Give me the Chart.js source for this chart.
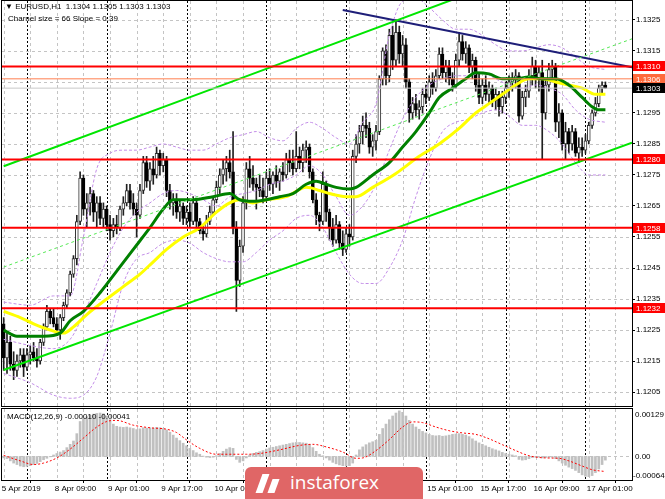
<!DOCTYPE html>
<html lang="en">
<head>
<meta charset="utf-8">
<title>EURUSD, H1</title>
<script src="https://cdn.jsdelivr.net/npm/chart.js@4.4.1/dist/chart.umd.min.js"></script>
<style>
    body {
        margin: 0;
        background: #fff;
    }

    .terminal {
        position: relative;
        width: 665px;
        height: 499px;
        overflow: hidden;
        background: #fff;
        font-family: "Liberation Sans", Arial, sans-serif;
    }

    .terminal__canvas {
        position: absolute;
        left: 0;
    }

    .terminal__text {
        position: absolute;
        font-size: 8px;
        line-height: 10px;
        color: #000;
        white-space: pre;
    }

    .logo {
        position: absolute;
        left: 245px;
        top: 467px;
        width: 178px;
        height: 32px;
        background: #e06666;
        border-radius: 6px 6px 0 0;
    }

    .logo__mark {
        position: absolute;
        left: 14px;
        top: 7px;
        width: 7px;
        height: 19px;
        background: #fff;
        transform: skewX(-20deg);
    }

    .logo__mark--second {
        left: 25px;
        top: 12px;
        height: 14px;
    }

    .logo__text {
        position: absolute;
        left: 45px;
        top: 6px;
        font-family: "Open Sans", sans-serif;
        font-size: 19px;
        line-height: 1;
        color: #fff;
    }
</style>
</head>
<body>
<div class="terminal">
    <canvas id="priceChart" class="terminal__canvas" style="top:0" width="665" height="409"></canvas>
    <canvas id="macdChart" class="terminal__canvas" style="top:406px" width="665" height="93"></canvas>
    <div class="terminal__text" style="left:5px;top:2px">▼ EURUSD,H1  1.1304 1.1305 1.1303 1.1303</div>
    <div class="terminal__text" style="left:8px;top:14px">Charnel size = 66 Slope = 0.39</div>
    <div class="terminal__text" style="left:7px;top:412px">MACD(12,26,9) -0.00010 -0.00041</div>
    <div class="logo">
        <span class="logo__mark"></span>
        <span class="logo__mark logo__mark--second"></span>
        <span class="logo__text">instaforex</span>
    </div>
</div>
<script>
/*
    ----------> DATA <----------
*/

// H1 candles, bar 0 = 5 Apr 17:00
const opens = [
    1.1227, 1.1216, 1.1221, 1.1214, 1.1212, 1.1215, 1.1217, 1.1213, 1.1217, 1.1218,
    1.1216, 1.1215, 1.1221, 1.1226, 1.1231, 1.1229, 1.1227, 1.1225, 1.1229, 1.1233,
    1.1237, 1.1243, 1.1248, 1.1260, 1.1274, 1.1264, 1.1266, 1.1269, 1.1263, 1.1266,
    1.1261, 1.1264, 1.1259, 1.1257, 1.1259, 1.1258, 1.1264, 1.1266, 1.1270, 1.1266,
    1.1264, 1.1262, 1.1270, 1.1279, 1.1273, 1.1277, 1.1275, 1.1282, 1.1278, 1.1280,
    1.1270, 1.1266, 1.1267, 1.1263, 1.1265, 1.1261, 1.1263, 1.1260, 1.1266, 1.1260,
    1.1257, 1.1256, 1.1260, 1.1263, 1.1267, 1.1271, 1.1275, 1.1277, 1.1279, 1.1276,
    1.1258, 1.1241, 1.1252, 1.1266, 1.1277, 1.1274, 1.1272, 1.1271, 1.1270, 1.1268,
    1.1274, 1.1272, 1.1275, 1.1273, 1.1276, 1.1275, 1.1280, 1.1279, 1.1277, 1.1281,
    1.1279, 1.1283, 1.1284, 1.1276, 1.1267, 1.1262, 1.1260, 1.1272, 1.1263, 1.1258,
    1.1254, 1.1259, 1.1253, 1.1251, 1.1256, 1.1255, 1.1281, 1.1285, 1.1289, 1.1291,
    1.1290, 1.1284, 1.1286, 1.1289, 1.1306, 1.1315, 1.1307, 1.1320, 1.1312, 1.1321,
    1.1314, 1.1317, 1.1305, 1.1295, 1.1298, 1.1296, 1.1297, 1.1301, 1.1300, 1.1305,
    1.1303, 1.1307, 1.1314, 1.1308, 1.1310, 1.1306, 1.1304, 1.1312, 1.1318, 1.1314,
    1.1316, 1.1310, 1.1312, 1.1304, 1.1300, 1.1304, 1.1301, 1.1303, 1.1299, 1.1301,
    1.1297, 1.1300, 1.1303, 1.1305, 1.1306, 1.1307, 1.1294, 1.1300, 1.1302, 1.1307,
    1.1310, 1.1306, 1.1308, 1.1295, 1.1304, 1.1309, 1.1310, 1.1292, 1.1295, 1.1285,
    1.1289, 1.1285, 1.1289, 1.1282, 1.1284, 1.1283, 1.1286, 1.1291, 1.1295, 1.1298,
    1.1303, 1.1304,
];
const highs = [
    1.1229, 1.1224, 1.1223, 1.1218, 1.1217, 1.1219, 1.1219, 1.1219, 1.1220, 1.1221,
    1.1219, 1.1222, 1.1227, 1.1233, 1.1232, 1.1232, 1.1229, 1.1230, 1.1234, 1.1238,
    1.1244, 1.1249, 1.1262, 1.1276, 1.1275, 1.1269, 1.1271, 1.1270, 1.1268, 1.1268,
    1.1266, 1.1265, 1.1262, 1.1261, 1.1262, 1.1265, 1.1268, 1.1272, 1.1272, 1.1269,
    1.1266, 1.1272, 1.1281, 1.1281, 1.1279, 1.1281, 1.1284, 1.1283, 1.1282, 1.1281,
    1.1272, 1.1269, 1.1269, 1.1267, 1.1266, 1.1265, 1.1266, 1.1268, 1.1267, 1.1261,
    1.1259, 1.1262, 1.1265, 1.1268, 1.1273, 1.1277, 1.1280, 1.1281, 1.1283, 1.1289,
    1.1260, 1.1254, 1.1268, 1.1279, 1.1281, 1.1278, 1.1274, 1.1275, 1.1274, 1.1276,
    1.1277, 1.1276, 1.1278, 1.1277, 1.1279, 1.1282, 1.1283, 1.1283, 1.1289, 1.1284,
    1.1285, 1.1286, 1.1285, 1.1277, 1.1269, 1.1263, 1.1276, 1.1273, 1.1264, 1.1261,
    1.1262, 1.1260, 1.1257, 1.1258, 1.1259, 1.1283, 1.1288, 1.1291, 1.1294, 1.1295,
    1.1292, 1.1288, 1.1291, 1.1307, 1.1316, 1.1317, 1.1322, 1.1323, 1.1325, 1.1323,
    1.1320, 1.1319, 1.1306, 1.1300, 1.1301, 1.1299, 1.1303, 1.1304, 1.1307, 1.1308,
    1.1309, 1.1316, 1.1316, 1.1312, 1.1312, 1.1308, 1.1314, 1.1321, 1.1320, 1.1318,
    1.1317, 1.1314, 1.1313, 1.1308, 1.1306, 1.1307, 1.1305, 1.1304, 1.1303, 1.1302,
    1.1302, 1.1305, 1.1307, 1.1308, 1.1309, 1.1308, 1.1302, 1.1304, 1.1309, 1.1313,
    1.1312, 1.1310, 1.1312, 1.1306, 1.1311, 1.1312, 1.1311, 1.1298, 1.1296, 1.1292,
    1.1290, 1.1291, 1.1290, 1.1287, 1.1287, 1.1288, 1.1292, 1.1296, 1.1300, 1.1304,
    1.1305, 1.1305,
];
const lows = [
    1.1212, 1.1211, 1.1212, 1.1209, 1.1210, 1.1213, 1.1210, 1.1212, 1.1214, 1.1215,
    1.1213, 1.1214, 1.1220, 1.1225, 1.1227, 1.1226, 1.1224, 1.1222, 1.1228, 1.1232,
    1.1236, 1.1242, 1.1246, 1.1259, 1.1262, 1.1258, 1.1262, 1.1260, 1.1258, 1.1259,
    1.1258, 1.1257, 1.1254, 1.1255, 1.1256, 1.1257, 1.1262, 1.1265, 1.1264, 1.1262,
    1.1255, 1.1261, 1.1269, 1.1271, 1.1270, 1.1272, 1.1274, 1.1275, 1.1276, 1.1268,
    1.1264, 1.1262, 1.1261, 1.1260, 1.1259, 1.1259, 1.1258, 1.1259, 1.1258, 1.1256,
    1.1254, 1.1255, 1.1259, 1.1262, 1.1266, 1.1269, 1.1272, 1.1273, 1.1274, 1.1256,
    1.1231, 1.1239, 1.1250, 1.1264, 1.1271, 1.1270, 1.1264, 1.1268, 1.1266, 1.1267,
    1.1270, 1.1269, 1.1271, 1.1270, 1.1273, 1.1274, 1.1276, 1.1275, 1.1276, 1.1277,
    1.1276, 1.1279, 1.1274, 1.1266, 1.1259, 1.1257, 1.1259, 1.1260, 1.1254, 1.1252,
    1.1253, 1.1251, 1.1249, 1.1250, 1.1252, 1.1254, 1.1279, 1.1282, 1.1285, 1.1287,
    1.1282, 1.1281, 1.1283, 1.1288, 1.1304, 1.1304, 1.1305, 1.1309, 1.1310, 1.1311,
    1.1310, 1.1303, 1.1292, 1.1293, 1.1294, 1.1293, 1.1295, 1.1298, 1.1299, 1.1301,
    1.1302, 1.1306, 1.1306, 1.1305, 1.1304, 1.1302, 1.1303, 1.1310, 1.1312, 1.1311,
    1.1308, 1.1306, 1.1302, 1.1298, 1.1298, 1.1299, 1.1298, 1.1297, 1.1296, 1.1294,
    1.1295, 1.1298, 1.1300, 1.1302, 1.1303, 1.1292, 1.1293, 1.1297, 1.1300, 1.1304,
    1.1303, 1.1302, 1.1280, 1.1293, 1.1302, 1.1305, 1.1289, 1.1287, 1.1283, 1.1280,
    1.1282, 1.1283, 1.1281, 1.1279, 1.1281, 1.1282, 1.1285, 1.1290, 1.1294, 1.1297,
    1.1301, 1.1303,
];
const closes = [
    1.1216, 1.1221, 1.1214, 1.1212, 1.1215, 1.1217, 1.1213, 1.1217, 1.1218, 1.1216,
    1.1215, 1.1221, 1.1226, 1.1231, 1.1229, 1.1227, 1.1225, 1.1229, 1.1233, 1.1237,
    1.1243, 1.1248, 1.1260, 1.1274, 1.1264, 1.1266, 1.1269, 1.1263, 1.1266, 1.1261,
    1.1264, 1.1259, 1.1257, 1.1259, 1.1258, 1.1264, 1.1266, 1.1270, 1.1266, 1.1264,
    1.1262, 1.1270, 1.1279, 1.1273, 1.1277, 1.1275, 1.1282, 1.1278, 1.1280, 1.1270,
    1.1266, 1.1267, 1.1263, 1.1265, 1.1261, 1.1263, 1.1260, 1.1266, 1.1260, 1.1257,
    1.1256, 1.1260, 1.1263, 1.1267, 1.1271, 1.1275, 1.1277, 1.1279, 1.1276, 1.1258,
    1.1241, 1.1252, 1.1266, 1.1277, 1.1274, 1.1272, 1.1271, 1.1270, 1.1268, 1.1274,
    1.1272, 1.1275, 1.1273, 1.1276, 1.1275, 1.1280, 1.1279, 1.1277, 1.1281, 1.1279,
    1.1283, 1.1284, 1.1276, 1.1267, 1.1262, 1.1260, 1.1272, 1.1263, 1.1258, 1.1254,
    1.1259, 1.1253, 1.1251, 1.1256, 1.1255, 1.1281, 1.1285, 1.1289, 1.1291, 1.1290,
    1.1284, 1.1286, 1.1289, 1.1306, 1.1315, 1.1307, 1.1320, 1.1312, 1.1321, 1.1314,
    1.1317, 1.1305, 1.1295, 1.1298, 1.1296, 1.1297, 1.1301, 1.1300, 1.1305, 1.1303,
    1.1307, 1.1314, 1.1308, 1.1310, 1.1306, 1.1304, 1.1312, 1.1318, 1.1314, 1.1316,
    1.1310, 1.1312, 1.1304, 1.1300, 1.1304, 1.1301, 1.1303, 1.1299, 1.1301, 1.1297,
    1.1300, 1.1303, 1.1305, 1.1306, 1.1307, 1.1294, 1.1300, 1.1302, 1.1307, 1.1310,
    1.1306, 1.1308, 1.1295, 1.1304, 1.1309, 1.1310, 1.1292, 1.1295, 1.1285, 1.1289,
    1.1285, 1.1289, 1.1282, 1.1284, 1.1283, 1.1286, 1.1291, 1.1295, 1.1298, 1.1303,
    1.1304, 1.1303,
];

// moving averages, read at sample bars
const greenBars = [0, 4, 12, 17, 20, 24, 29, 34, 39, 44, 48, 51, 57, 63, 68, 71, 75, 79, 83, 87, 91, 94, 97, 100, 104, 106, 111, 116, 120, 124, 128, 131, 135, 139, 142, 146, 150, 154, 158, 162, 166, 170, 174, 177, 179, 181];
const greenMa = [1.1225, 1.1223, 1.1223, 1.1224, 1.1228, 1.1231, 1.1237, 1.1244, 1.1251, 1.1258, 1.1264, 1.1267, 1.1267, 1.1268, 1.1269, 1.1267, 1.12665, 1.1267, 1.1268, 1.1269, 1.1272, 1.1273, 1.1272, 1.1271, 1.12705, 1.1271, 1.1275, 1.1279, 1.1284, 1.1289, 1.1295, 1.1300, 1.1303, 1.1306, 1.1308, 1.13076, 1.1306, 1.1306, 1.13066, 1.1306, 1.1306, 1.1304, 1.1300, 1.1297, 1.1296, 1.1296];
const yellowBars = [0, 5, 9, 14, 18, 21, 25, 31, 36, 41, 45, 49, 54, 59, 64, 68, 71, 75, 79, 85, 91, 95, 98, 103, 106, 111, 118, 125, 131, 137, 142, 146, 150, 154, 158, 162, 166, 170, 174, 178, 181];
const yellowMa = [1.1231, 1.1229, 1.1227, 1.1225, 1.1224, 1.1226, 1.1230, 1.1235, 1.1239, 1.1243, 1.1247, 1.1251, 1.1255, 1.1258, 1.1263, 1.1266, 1.1267, 1.1266, 1.1267, 1.1268, 1.1271, 1.1270, 1.1269, 1.1268, 1.1268, 1.1271, 1.12755, 1.1281, 1.1285, 1.1290, 1.1295, 1.1298, 1.1301, 1.1304, 1.1306, 1.1306, 1.1305, 1.1304, 1.1303, 1.1301, 1.1301];

// bollinger bands, read at sample bars
const bbBars = [0, 8, 15, 20, 24, 28, 32, 36, 40, 44, 48, 52, 56, 60, 64, 68, 72, 76, 80, 84, 88, 92, 96, 100, 104, 108, 112, 116, 120, 124, 128, 132, 136, 140, 144, 148, 152, 156, 160, 164, 168, 172, 176, 181];
const bbUpper = [1.1234, 1.1233, 1.1236, 1.1236, 1.1255, 1.1277, 1.1282, 1.1283, 1.1283, 1.1284, 1.1285, 1.1284, 1.1283, 1.1283, 1.1285, 1.1287, 1.1288, 1.1289, 1.1287, 1.1286, 1.1290, 1.1292, 1.1290, 1.1287, 1.1285, 1.1292, 1.1298, 1.1320, 1.1331, 1.1332, 1.1329, 1.1325, 1.1322, 1.1322, 1.1320, 1.1317, 1.1315, 1.1315, 1.1316, 1.1317, 1.1316, 1.1313, 1.1310, 1.1309];
const bbMid = [1.1222, 1.1220, 1.1219, 1.1222, 1.1230, 1.1240, 1.1250, 1.1258, 1.1263, 1.1266, 1.1269, 1.1270, 1.1269, 1.1267, 1.1265, 1.1268, 1.1269, 1.1270, 1.1272, 1.1273, 1.1275, 1.1278, 1.1275, 1.1268, 1.1262, 1.1265, 1.1272, 1.1283, 1.1293, 1.1300, 1.1304, 1.1306, 1.1307, 1.1307, 1.1308, 1.1306, 1.1304, 1.1303, 1.1304, 1.1303, 1.1301, 1.1296, 1.1293, 1.1292];
const bbLower = [1.1211, 1.1208, 1.1204, 1.1203, 1.1204, 1.1210, 1.1224, 1.1240, 1.1248, 1.1250, 1.1253, 1.1254, 1.1253, 1.1250, 1.1248, 1.1247, 1.1247, 1.1250, 1.1254, 1.1257, 1.1261, 1.1262, 1.1258, 1.1250, 1.1243, 1.1240, 1.1240, 1.1245, 1.1254, 1.1268, 1.1280, 1.1289, 1.1292, 1.1293, 1.1295, 1.1296, 1.1294, 1.1291, 1.1291, 1.1289, 1.1285, 1.1279, 1.1275, 1.1275];

// drawn objects
const levels = [1.1310, 1.1280, 1.1258, 1.1232];
const askLevel = 1.1306;
const bidLevel = 1.1303;
const channelBars = [0, 189];
const channelUpper = [1.12778, 1.13530];
const channelMid = [1.12453, 1.13189];
const channelLower = [1.12121, 1.12854];
const trendBars = [102, 189];
const trendLine = [1.13282, 1.13097];

// MACD(12,26,9)
const macdHist = [
    -0.00004, -0.00006,
    -0.00012, -0.00018, -0.00022, -0.00026, -0.00028, -0.00027,
    -0.00025, -0.00022, -0.00019,
    -0.00014, -0.00009, -0.00005, -0.00001,
    0.00004, 0.00008, 0.00012, 0.00016,
    0.00024, 0.00033, 0.00042, 0.00062,
    0.00095, 0.00104, 0.00108,
    0.00112, 0.00115, 0.00117, 0.00118, 0.00116, 0.00110, 0.00100,
    0.00088, 0.00082, 0.00080, 0.00079, 0.00080, 0.00078, 0.00076, 0.00073, 0.00075,
    0.00078, 0.00077, 0.00078, 0.00077, 0.00079, 0.00078, 0.00076, 0.00072, 0.00066,
    0.00058, 0.00050, 0.00043, 0.00036, 0.00029,
    0.00022, 0.00016, 0.00010, 0.00006,
    0.00001, -0.00002, -0.00003, -0.00002, 0.00002,
    0.00008, 0.00014, 0.00020, 0.00024, 0.00022,
    -0.00008, -0.00016, -0.00012, -0.00004,
    0.00004, 0.00008, 0.00011, 0.00013, 0.00016,
    0.00020, 0.00023, 0.00025, 0.00027, 0.00029,
    0.00031, 0.00033, 0.00035, 0.00037, 0.00038, 0.00038, 0.00037, 0.00036, 0.00033,
    0.00024, 0.00014, 0.00006, 0.00002, -0.00004, -0.00010,
    -0.00016, -0.00020, -0.00023, -0.00025, -0.00026, -0.00025, -0.00018, 0.00004, 0.00018,
    0.00026, 0.00032, 0.00037, 0.00040, 0.00044,
    0.00060, 0.00076, 0.00088, 0.00100,
    0.00110, 0.00118, 0.00124, 0.00120,
    0.00110, 0.00098, 0.00088,
    0.00080, 0.00074, 0.00068, 0.00064, 0.00060,
    0.00057, 0.00056, 0.00057, 0.00055, 0.00056,
    0.00058, 0.00060, 0.00061, 0.00062, 0.00060, 0.00058, 0.00054,
    0.00048, 0.00042, 0.00037, 0.00033, 0.00029,
    0.00025, 0.00021, 0.00018, 0.00015, 0.00011,
    0.00008, 0.00006, 0.00004, 0.00002,
    -0.00008, -0.00010, -0.00009, -0.00006,
    -0.00003, -0.00002, -0.00002, -0.00004, -0.00003, -0.00002, -0.00002, -0.00006, -0.00012,
    -0.00018, -0.00024, -0.00029, -0.00033, -0.00038,
    -0.00044, -0.00050, -0.00054, -0.00055, -0.00052,
    -0.00044, -0.00034, -0.00022, -0.00010,
];
const signalBars = [0, 5, 9, 12, 16, 20, 24, 28, 31, 34, 39, 44, 49, 52, 55, 59, 64, 69, 73, 77, 83, 89, 93, 97, 102, 106, 108, 112, 116, 120, 123, 126, 130, 134, 138, 142, 146, 150, 154, 158, 163, 167, 170, 174, 177, 181];
const signalVals = [0.00003, -0.00012, -0.00022, -0.00018, -0.00004, 0.00020, 0.00050, 0.00080, 0.00095, 0.00098, 0.00085, 0.00078, 0.00074, 0.00065, 0.00045, 0.00022, 0.00006, 0.00006, 0.00006, 0.00008, 0.00018, 0.00030, 0.00033, 0.00026, 0.00012, -0.00005, -0.00004, 0.00016, 0.00046, 0.00080, 0.00094, 0.00092, 0.00080, 0.00070, 0.00064, 0.00060, 0.00048, 0.00032, 0.00016, 0.00002, -0.00004, -0.00005, -0.00012, -0.00026, -0.00036, -0.00041];

// axes
const timeBars = [0, 16, 32, 48, 64, 80, 96, 112, 128, 144, 160, 176];
const timeLabels = ["5 Apr 2019", "8 Apr 09:00", "9 Apr 01:00", "9 Apr 17:00", "10 Apr 09:00", "11 Apr 01:00", "11 Apr 17:00", "12 Apr 09:00", "15 Apr 01:00", "15 Apr 17:00", "16 Apr 09:00", "17 Apr 01:00"];
const gridBars = [0, 8, 16, 24, 32, 40, 48, 56, 64, 72, 80, 88, 96, 104, 112, 120, 128, 136, 144, 152, 160, 168, 176, 184];
const dayBars = [7, 31, 55, 79, 103, 127, 151, 175];
const priceTicks = [1.1325, 1.1315, 1.1295, 1.1285, 1.1275, 1.1265, 1.1255, 1.1245, 1.1235, 1.1225, 1.1215, 1.1205];
const priceGrid = [1.1325, 1.1315, 1.1305, 1.1295, 1.1285, 1.1275, 1.1265, 1.1255, 1.1245, 1.1235, 1.1225, 1.1215, 1.1205];
const priceMin = 1.12005;
const priceMax = 1.13311;
const macdMin = -0.00064;
const macdMax = 0.00129;
const barMax = 189;

/*
    ----------> HELPERS <----------
*/

const FONT = '8px "Liberation Sans", Arial, sans-serif';

Chart.defaults.font.family = '"Liberation Sans", Arial, sans-serif';
Chart.defaults.font.size = 8;
Chart.defaults.color = "#000";
Chart.defaults.animation = false;
Chart.defaults.elements.point.radius = 0;
Chart.defaults.plugins.legend.display = false;
Chart.defaults.plugins.tooltip.enabled = false;

function points(xs, ys) {
    return xs.map((x, i) => ({ x, y: ys[i] }));
}

function lineSet(data, color, width, order, dash) {
    return {
        type: "line",
        data,
        borderColor: color,
        borderWidth: width,
        borderDash: dash || [],
        cubicInterpolationMode: "monotone",
        order,
    };
}

function chromePlugin(hLines, drawTags) {
    return {
        id: "mtChrome",
        beforeDatasetsDraw(chart) {
            const { ctx, chartArea: area, scales: { x, y } } = chart;
            ctx.save();
            ctx.beginPath();
            ctx.rect(area.left, area.top, area.right - area.left, area.bottom - area.top);
            ctx.clip();
            ctx.lineWidth = 1;

            ctx.strokeStyle = "#c4c4c4";
            ctx.setLineDash([3, 3]);
            ctx.beginPath();
            gridBars.forEach(bar => {
                const px = Math.round(x.getPixelForValue(bar)) + 0.5;
                ctx.moveTo(px, area.top);
                ctx.lineTo(px, area.bottom);
            });
            hLines.forEach(v => {
                const py = Math.round(y.getPixelForValue(v)) + 0.5;
                ctx.moveTo(area.left, py);
                ctx.lineTo(area.right, py);
            });
            ctx.stroke();

            ctx.strokeStyle = "#000";
            ctx.setLineDash([2, 2]);
            ctx.beginPath();
            dayBars.forEach(bar => {
                const px = Math.round(x.getPixelForValue(bar)) + 0.5;
                ctx.moveTo(px, area.top);
                ctx.lineTo(px, area.bottom);
            });
            ctx.stroke();
            ctx.restore();
        },
        afterDraw(chart) {
            const { ctx, chartArea: area } = chart;
            ctx.save();
            ctx.strokeStyle = "#000";
            ctx.lineWidth = 1;
            ctx.setLineDash([]);
            ctx.strokeRect(area.left - 0.5, area.top - 0.5, area.right - area.left + 1, area.bottom - area.top + 1);
            drawTags(chart);
            ctx.restore();
        },
    };
}

function priceTags(chart) {
    const { ctx, chartArea: area, scales: { y } } = chart;

    const tag = (value, fill) => {
        const py = Math.round(y.getPixelForValue(value));
        ctx.fillStyle = fill;
        ctx.fillRect(area.right + 1, py - 5, chart.width - area.right - 1, 10);
        ctx.fillStyle = "#fff";
        ctx.font = FONT;
        ctx.textAlign = "left";
        ctx.textBaseline = "middle";
        ctx.fillText(value.toFixed(4), area.right + 4, py + 0.5);
    };

    levels.forEach(v => tag(v, "#ff0000"));
    tag(askLevel, "#ff6a3c");
    tag(bidLevel, "#000000");
}

function macdTags(chart) {
    const { ctx, chartArea: area, scales: { y } } = chart;
    ctx.fillStyle = "#000";
    ctx.font = FONT;
    ctx.textAlign = "left";
    ctx.textBaseline = "middle";
    ctx.fillText(macdMax.toFixed(5), area.right + 3, y.getPixelForValue(macdMax) + 6);
    ctx.fillText("0.00", area.right + 3, y.getPixelForValue(0) + 0.5);
    ctx.fillText(macdMin.toFixed(5), area.right + 1, y.getPixelForValue(macdMin) - 4);
}

/*
    ----------> PRICE CHART <----------
*/

const candleBodies = opens.map((o, i) => ({ x: i, y: [o, closes[i]] }));
const candleWicks = highs.map((h, i) => ({ x: i, y: [lows[i], h] }));
const bodyFill = opens.map((o, i) => closes[i] >= o ? "#ffffff" : "#000000");
const bodyEdge = opens.map((o, i) => closes[i] >= o ? "#303030" : "#000000");

new Chart(document.getElementById("priceChart"), {
    type: "bar",
    data: {
        datasets: [
            ...levels.map(v => lineSet(points([-0.5, barMax], [v, v]), "#ff0000", 2, 1)),
            lineSet(points([-0.5, barMax], [askLevel, askLevel]), "#ff7f50", 1, 1),
            lineSet(points([-0.5, barMax], [bidLevel, bidLevel]), "#c8c8c8", 1, 1),
            lineSet(points(channelBars, channelUpper), "#00e600", 2, 2),
            lineSet(points(channelBars, channelLower), "#00e600", 2, 2),
            lineSet(points(channelBars, channelMid), "#55e855", 1, 2, [3, 3]),
            lineSet(points(trendBars, trendLine), "#1e1e78", 2, 2),
            lineSet(points(greenBars, greenMa), "#008000", 3, 3),
            lineSet(points(yellowBars, yellowMa), "#ffff00", 3, 4),
            lineSet(points(bbBars, bbUpper), "#c38ee8", 1, 5, [3, 2]),
            lineSet(points(bbBars, bbMid), "#c38ee8", 1, 5, [3, 2]),
            lineSet(points(bbBars, bbLower), "#c38ee8", 1, 5, [3, 2]),
            {
                type: "bar",
                data: candleBodies,
                backgroundColor: bodyFill,
                borderColor: bodyEdge,
                borderWidth: 1,
                borderSkipped: false,
                barThickness: 3,
                minBarLength: 1,
                grouped: false,
                order: 7,
            },
            {
                type: "bar",
                data: candleWicks,
                backgroundColor: "#202020",
                barThickness: 1,
                grouped: false,
                order: 8,
            },
        ],
    },
    options: {
        responsive: false,
        layout: { autoPadding: false, padding: { left: 2, top: 1, right: 0, bottom: 3 } },
        scales: {
            x: { type: "linear", min: -0.5, max: barMax, offset: false, display: false },
            y: {
                position: "right",
                min: priceMin,
                max: priceMax,
                beginAtZero: false,
                afterBuildTicks: s => { s.ticks = priceTicks.map(value => ({ value })); },
                afterFit: s => { s.width = 33; s.paddingTop = 0; s.paddingBottom = 0; },
                ticks: { callback: v => v.toFixed(4), padding: 1, font: { size: 8 } },
                grid: { drawOnChartArea: false, tickLength: 3, color: "#000" },
                border: { display: false },
            },
        },
    },
    plugins: [chromePlugin(priceGrid, priceTags)],
});

/*
    ----------> MACD CHART <----------
*/

new Chart(document.getElementById("macdChart"), {
    type: "bar",
    data: {
        datasets: [
            lineSet(points(signalBars, signalVals), "#ff0000", 1, 0, [2, 2]),
            {
                type: "bar",
                data: macdHist.map((v, i) => ({ x: i, y: v })),
                backgroundColor: "#c0c0c0",
                barThickness: 2,
                grouped: false,
                order: 1,
            },
        ],
    },
    options: {
        responsive: false,
        layout: { autoPadding: false, padding: { left: 2, top: 3, right: 0, bottom: 0 } },
        scales: {
            x: {
                type: "linear",
                min: -0.5,
                max: barMax,
                offset: false,
                afterBuildTicks: s => { s.ticks = timeBars.map(value => ({ value })); },
                afterFit: s => { s.height = 19; s.paddingLeft = 0; s.paddingRight = 0; },
                ticks: {
                    callback: (v, i) => timeLabels[i],
                    align: "start",
                    labelOffset: -2,
                    padding: 1,
                    autoSkip: false,
                    maxRotation: 0,
                    minRotation: 0,
                    font: { size: 8 },
                },
                grid: { drawOnChartArea: false, tickLength: 3, color: "#000" },
                border: { display: false },
            },
            y: {
                position: "right",
                min: macdMin,
                max: macdMax,
                beginAtZero: false,
                afterFit: s => { s.width = 33; s.paddingTop = 0; s.paddingBottom = 0; },
                ticks: { display: false },
                grid: { display: false },
                border: { display: false },
            },
        },
    },
    plugins: [chromePlugin([0], macdTags)],
});
</script>
</body>
</html>
